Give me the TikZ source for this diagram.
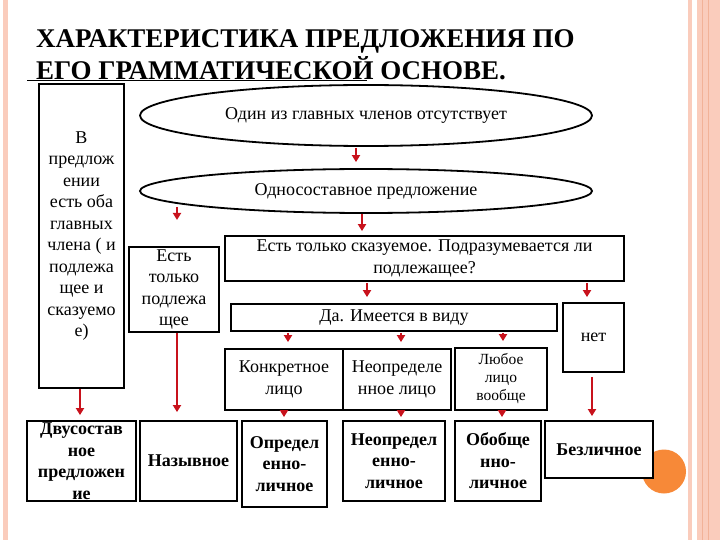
\documentclass[tikz,border=0pt]{standalone}
\usepackage{fontspec}
\setmainfont{Liberation Serif}
\usetikzlibrary{arrows.meta,shapes.geometric}

\definecolor{arrowred}{RGB}{200,18,28}
\definecolor{dotorange}{RGB}{247,137,56}
\definecolor{stripe}{RGB}{250,204,188}
\definecolor{stripedark}{RGB}{242,178,152}

\begin{document}
\begin{tikzpicture}[x=1pt,y=-1pt,
  box/.style={draw,fill=white,line width=1.8pt,inner sep=0pt,align=center,font=\fontsize{18}{21.5}\selectfont},
  boldbox/.style={box,font=\fontsize{18}{21.5}\selectfont\bfseries},
  oval/.style={draw,ellipse,line width=1.8pt,inner sep=0pt,font=\fontsize{18}{20}\selectfont},
  redarrow/.style={->,>={Triangle[width=8pt,length=7pt]},line width=1.8pt,arrowred},
  longarrow/.style={redarrow,line width=2.8pt}]
\useasboundingbox (0,0) rectangle (720,540);

% Slide stripes
\fill[stripe] (3,0) rectangle (8,540);
\fill[stripe] (688,0) rectangle (692,540);
\fill[stripe] (697,0) rectangle (720,540);
\draw[stripedark,line width=1pt] (702,0) -- (702,540);
\draw[stripedark,line width=1pt] (708,0) -- (708,540);

% Title
\node[anchor=base west,inner sep=0pt,font=\fontsize{27}{32}\selectfont\bfseries] (title1) at (36,48) {ХАРАКТЕРИСТИКА ПРЕДЛОЖЕНИЯ ПО};
\node[anchor=base west,inner sep=0pt,font=\fontsize{27}{32}\selectfont\bfseries] (title2) at (36,80) {ЕГО ГРАММАТИЧЕСКОЙ ОСНОВЕ.};
\draw[line width=1pt] (27,81) -- (367,81);

% Orange dot behind the last box
\fill[dotorange] (664,471.5) circle (22pt);

% Upper part
\node[box,minimum width=85,minimum height=304] (both) at (81.5,236) {В\\предлож\\ении\\есть оба\\главных\\члена ( и\\подлежа\\щее и\\сказуемо\\е)};
\node[oval,minimum width=452,minimum height=61] (absent) at (366,115.5) {Один из главных членов отсутствует};
\node[oval,minimum width=452,minimum height=44] (onepart) at (366,191) {Односоставное предложение};
\node[box,minimum width=90,minimum height=85] (subj) at (174,289.5) {Есть\\только\\подлежа\\щее};
\node[box,minimum width=399,minimum height=45] (pred) at (424.5,258.5) {Есть только сказуемое. Подразумевается ли\\подлежащее?};
\node[box,minimum width=326,minimum height=27] (yes) at (394,317.5) {Да. Имеется в виду};
\node[box,minimum width=61,minimum height=69] (no) at (593.5,337.5) {нет};

% Which person is meant
\node[box,minimum width=118,minimum height=61] (concr) at (284,379.5) {Конкретное\\лицо};
\node[box,minimum width=108,minimum height=61] (indef) at (397,379.5) {Неопределе\\нное лицо};
\node[box,minimum width=92,minimum height=62,font=\fontsize{15.5}{18}\selectfont] (any) at (501,379) {Любое\\лицо\\вообще};

% Sentence types
\node[boldbox,minimum width=109,minimum height=80] (twopart) at (81.5,461) {Двусостав\\ное\\предложен\\ие};
\node[boldbox,minimum width=97,minimum height=80] (nominal) at (188.5,461) {Назывное};
\node[boldbox,minimum width=85,minimum height=86] (definite) at (284.5,464) {Определ\\енно-\\личное};
\node[boldbox,minimum width=102,minimum height=80] (indefinite) at (394,461) {Неопредел\\енно-\\личное};
\node[boldbox,minimum width=86,minimum height=80] (general) at (498,461) {Обобще\\нно-\\личное};
\node[boldbox,minimum width=108,minimum height=57] (impersonal) at (599,449.5) {Безличное};

% Arrows
\coordinate (loosetop) at (177,207);
\coordinate (loosetip) at (177,220);
\draw[redarrow,shorten <=1pt,shorten >=6pt] ([xshift=-10pt]absent.south) -- ([xshift=-10pt]onepart.north);
\draw[redarrow] (loosetop) -- (loosetip);
\draw[redarrow,shorten >=4pt] ([xshift=-4pt]onepart.south) -- ([xshift=-4pt]onepart.south |- pred.north);
\draw[redarrow,shorten <=1pt,shorten >=6pt] ([xshift=-57.5pt]pred.south) -- ([xshift=-57.5pt]pred.south |- yes.north);
\draw[redarrow,shorten <=1pt,shorten >=5pt] ([xshift=-6.5pt]no.north |- pred.south) -- ([xshift=-6.5pt]no.north);
\draw[redarrow,shorten <=1pt,shorten >=6pt] ([xshift=4pt]concr.north |- yes.south) -- ([xshift=4pt]concr.north);
\draw[redarrow,shorten <=1pt,shorten >=6pt] ([xshift=4pt]indef.north |- yes.south) -- ([xshift=4pt]indef.north);
\draw[redarrow,shorten <=1pt,shorten >=6pt] ([xshift=2pt]any.north |- yes.south) -- ([xshift=2pt]any.north);
\draw[redarrow,shorten >=3pt] (concr.south) -- (concr.south |- definite.north);
\draw[redarrow,shorten >=3pt] ([xshift=4pt]indef.south) -- ([xshift=4pt]indef.south |- indefinite.north);
\draw[redarrow,shorten >=3pt] ([xshift=1pt]any.south) -- ([xshift=1pt]any.south |- general.north);
\draw[longarrow,shorten >=5pt] ([xshift=-1.5pt]both.south) -- ([xshift=-1.5pt]both.south |- twopart.north);
\draw[longarrow,shorten >=8pt] ([xshift=3pt]subj.south) -- ([xshift=3pt]subj.south |- nominal.north);
\draw[longarrow,shorten <=4pt,shorten >=4pt] ([xshift=-1.5pt]no.south) -- ([xshift=-1.5pt]no.south |- impersonal.north);
\end{tikzpicture}
\end{document}
